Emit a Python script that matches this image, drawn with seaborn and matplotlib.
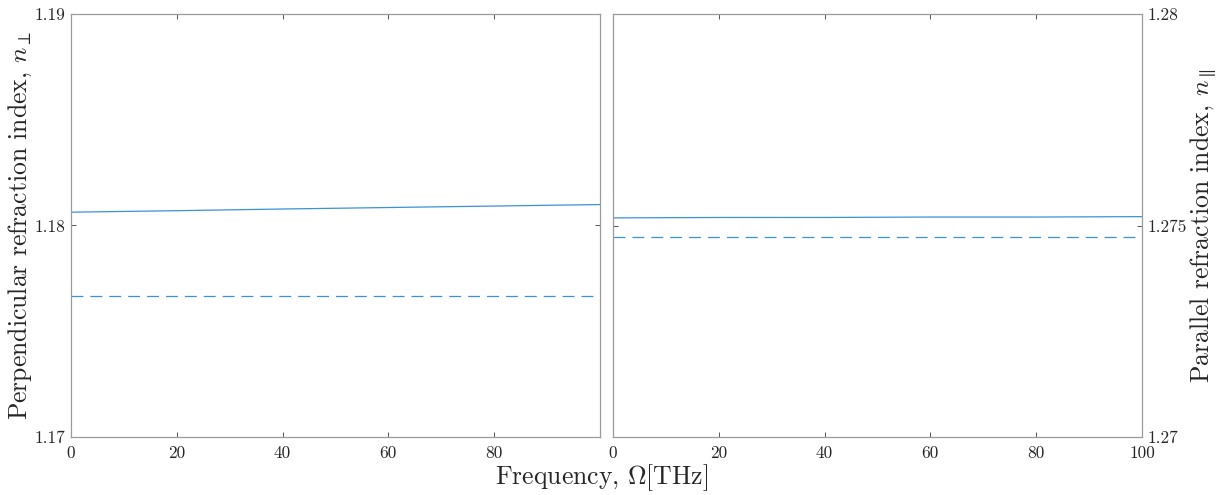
import matplotlib
matplotlib.use("Agg")
import matplotlib.pyplot as plt
import seaborn as sns
import pandas as pd

# Frequency samples (THz)
freq = [0, 20, 40, 60, 80, 100]

# Perpendicular refraction index
n_perp_solid = [1.18063, 1.18070, 1.18078, 1.18085, 1.18092, 1.18099]
n_perp_dashed = [1.17665, 1.17665, 1.17665, 1.17665, 1.17665, 1.17665]

# Parallel refraction index
n_par_solid = [1.27518, 1.27519, 1.27519, 1.27520, 1.27520, 1.27521]
n_par_dashed = [1.27473, 1.27473, 1.27473, 1.27473, 1.27473, 1.27473]

left_xticks = [0, 20, 40, 60, 80]
right_xticks = [0, 20, 40, 60, 80, 100]
left_yticks = [1.17, 1.18, 1.19]
left_yticklabels = ["1.17", "1.18", "1.19"]
right_yticks = [1.27, 1.275, 1.28]
right_yticklabels = ["1.27", "1.275", "1.28"]

sns.set_style("white")
plt.rcParams["font.family"] = ["cmr10"]
plt.rcParams["mathtext.fontset"] = "cm"
plt.rcParams["axes.formatter.use_mathtext"] = True
plt.rcParams["lines.scale_dashes"] = False

LINE = "#3b93d6"
SPINE = "#9a9a9a"
TICK = "#555555"
TEXT = "#262626"

fig = plt.figure(figsize=(12.23, 4.95), dpi=100)
ax_l = fig.add_axes([71 / 1223, 1 - 437 / 495, 529 / 1223, 423 / 495])
ax_r = fig.add_axes([613 / 1223, 1 - 437 / 495, 529 / 1223, 423 / 495])

df_l = pd.DataFrame({"f": freq, "solid": n_perp_solid, "dashed": n_perp_dashed})
df_r = pd.DataFrame({"f": freq, "solid": n_par_solid, "dashed": n_par_dashed})

for ax, df in ((ax_l, df_l), (ax_r, df_r)):
    sns.lineplot(data=df, x="f", y="solid", ax=ax, color=LINE, linewidth=0.9)
    sns.lineplot(data=df, x="f", y="dashed", ax=ax, color=LINE, linewidth=0.9)
    ax.lines[-1].set_dashes((8.6, 5.0))
    ax.set_xlim(0, 100)
    for s in ax.spines.values():
        s.set_color(SPINE)
        s.set_linewidth(0.9)
    ax.tick_params(direction="in", length=3.5, width=0.7, color=TICK,
                   labelsize=12.5, labelcolor=TEXT,
                   top=True, bottom=True, left=True, right=True)
    ax.set_xlabel("")
    ax.set_ylabel("")

ax_l.set_ylim(1.17, 1.19)
ax_l.set_xticks(left_xticks)
ax_l.set_xticklabels([str(v) for v in left_xticks])
ax_l.set_yticks(left_yticks)
ax_l.set_yticklabels(left_yticklabels)
ax_l.tick_params(axis="y", pad=4)
ax_l.tick_params(axis="x", pad=6)
ax_l.set_ylabel(r"Perpendicular refraction index, $n_\perp$", fontsize=18.5,
                color=TEXT)
ax_l.yaxis.set_label_coords(-37 / 529, 0.5)

ax_r.set_ylim(1.27, 1.28)
ax_r.set_xticks(right_xticks)
ax_r.set_xticklabels([str(v) for v in right_xticks])
ax_r.set_yticks(right_yticks)
ax_r.set_yticklabels(right_yticklabels)
ax_r.yaxis.tick_right()
ax_r.tick_params(axis="y", left=True, right=True, labelleft=False,
                 labelright=True, pad=4)
ax_r.tick_params(axis="x", pad=6)
ax_r.yaxis.set_label_position("right")
ax_r.set_ylabel(r"Parallel refraction index, $n_\parallel$", fontsize=18.5,
                color=TEXT)
ax_r.yaxis.set_label_coords(1 + 46 / 529, 0.5)

fig.text(0.4915, 0.036, r"Frequency, $\Omega[\mathrm{THz}]$", fontsize=18.5,
         ha="center", va="center", color=TEXT)

fig.savefig("out.png", dpi=100)
